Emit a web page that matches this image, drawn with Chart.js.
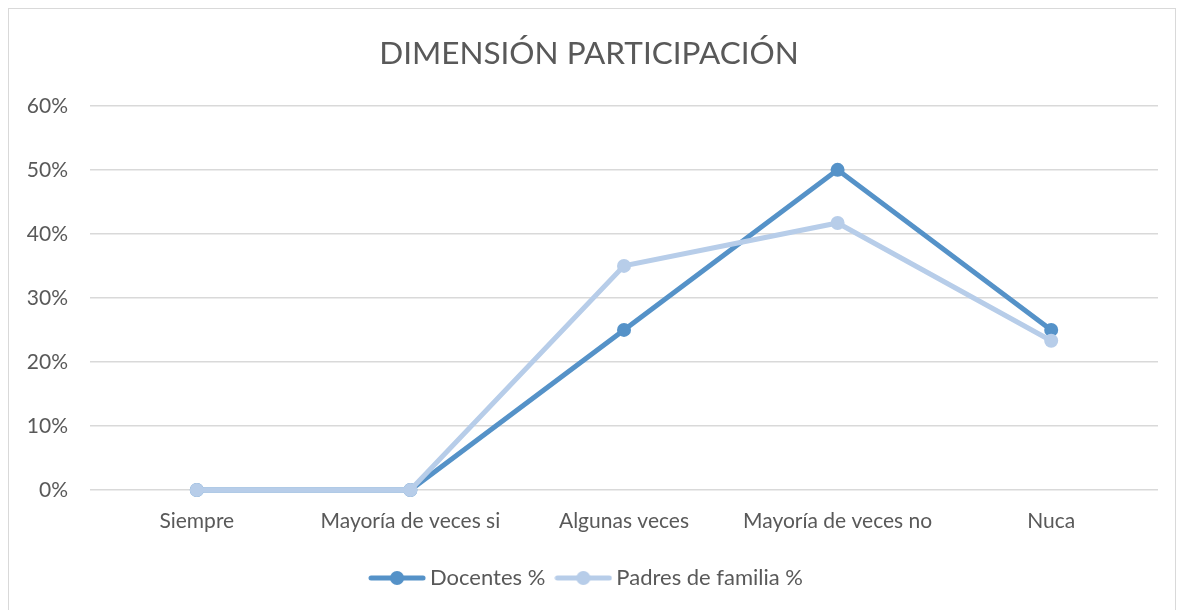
<!DOCTYPE html>
<html>
<head>
<meta charset="utf-8">
<script src="https://cdn.jsdelivr.net/npm/chart.js@4/dist/chart.umd.min.js"></script>
<style>
  html, body { margin: 0; padding: 0; background: #fff; }
  #frame { position: absolute; left: 8px; top: 8px; width: 1166px; height: 620px; border: 1px solid #d9d9d9; }
  #chart { position: absolute; left: 0; top: 0; }
</style>
</head>
<body>
<div id="frame"></div>
<canvas id="chart" width="1184" height="610"></canvas>
<script>
const categories = ['Siempre', 'Mayoría de veces si', 'Algunas veces', 'Mayoría de veces no', 'Nuca'];
const docentes = [0, 0, 0.25, 0.50, 0.25];
const padres = [0, 0, 0.35, 0.417, 0.233];

const docColor = '#5592c8';
const padColor = '#b7cde9';
const textColor = '#595959';
const fontFamily = 'Lato, "Open Sans", sans-serif';

// legend marker: line with a dot in the middle
function legendIcon(color) {
  const c = document.createElement('canvas');
  c.width = 58;
  c.height = 16;
  const g = c.getContext('2d');
  g.strokeStyle = color;
  g.lineWidth = 5;
  g.lineCap = 'round';
  g.beginPath();
  g.moveTo(3, 8);
  g.lineTo(55, 8);
  g.stroke();
  g.fillStyle = color;
  g.beginPath();
  g.arc(29, 8, 7, 0, Math.PI * 2);
  g.fill();
  return c;
}
const icons = [legendIcon(docColor), legendIcon(padColor)];

const ctx = document.getElementById('chart').getContext('2d');
new Chart(ctx, {
  type: 'line',
  data: {
    labels: categories,
    datasets: [
      {
        label: 'Docentes %',
        data: docentes,
        order: 2,
        borderColor: docColor,
        backgroundColor: docColor,
        borderWidth: 5,
        pointRadius: 7,
        pointHoverRadius: 7,
        pointBorderWidth: 0,
        tension: 0,
        clip: false
      },
      {
        label: 'Padres de familia %',
        data: padres,
        order: 1, // drawn on top, like the original
        borderColor: padColor,
        backgroundColor: padColor,
        borderWidth: 5,
        pointRadius: 7,
        pointHoverRadius: 7,
        pointBorderWidth: 0,
        tension: 0,
        clip: false
      }
    ]
  },
  options: {
    responsive: false,
    animation: false,
    layout: { padding: { left: 20, right: 26, top: 22, bottom: 11 } },
    plugins: {
      title: {
        display: true,
        text: 'DIMENSIÓN PARTICIPACIÓN',
        color: textColor,
        font: { family: fontFamily, size: 31.5, weight: 'normal' },
        padding: { top: 13, bottom: 33 }
      },
      legend: {
        position: 'bottom',
        labels: {
          color: textColor,
          font: { family: fontFamily, size: 22 },
          usePointStyle: true,
          pointStyleWidth: 44,
          boxHeight: 16,
          padding: 16,
          generateLabels(chart) {
            const items = Chart.defaults.plugins.legend.labels.generateLabels(chart);
            items.forEach(it => { it.pointStyle = icons[it.datasetIndex]; });
            return items;
          },
          sort: (a, b) => a.datasetIndex - b.datasetIndex
        }
      },
      tooltip: { enabled: false }
    },
    scales: {
      x: {
        offset: true,
        grid: { display: false },
        border: { display: false },
        ticks: { color: textColor, font: { family: fontFamily, size: 21 }, padding: 11 },
        afterFit(scale) { scale.height = 61; }
      },
      y: {
        min: 0,
        max: 0.6,
        grid: { color: '#d9d9d9', lineWidth: 1.5, drawTicks: false },
        border: { display: false },
        ticks: {
          stepSize: 0.1,
          color: textColor,
          font: { family: fontFamily, size: 21 },
          padding: 22,
          callback: v => Math.round(v * 100) + '%'
        },
        afterFit(scale) { scale.width = 70; }
      }
    }
  }
});
</script>
</body>
</html>
